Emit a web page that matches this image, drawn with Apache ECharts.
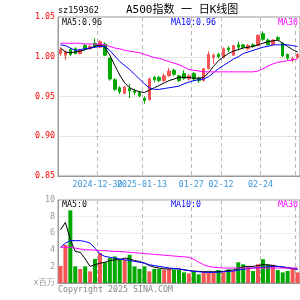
<!DOCTYPE html>
<html lang="zh">
<head>
    <meta charset="UTF-8">
    <title>A500指数 日K线图</title>
    <style>
        html, body { margin: 0; padding: 0; background: #fff; }
        #main { width: 300px; height: 300px; }
    </style>
</head>
<body>
<div id="main"></div>
<script src="https://cdn.jsdelivr.net/npm/echarts@6/dist/echarts.min.js"></script>
<script>
    // 交易日
    const dates = [
        '2024-12-18', '2024-12-19', '2024-12-20', '2024-12-23', '2024-12-24', '2024-12-25', '2024-12-26', '2024-12-27',
        '2024-12-30', '2024-12-31', '2025-01-02', '2025-01-03', '2025-01-06', '2025-01-07', '2025-01-08', '2025-01-09',
        '2025-01-10', '2025-01-13', '2025-01-14', '2025-01-15', '2025-01-16', '2025-01-17', '2025-01-20', '2025-01-21',
        '2025-01-22', '2025-01-23', '2025-01-24', '2025-01-27', '2025-02-05', '2025-02-06', '2025-02-07', '2025-02-10',
        '2025-02-11', '2025-02-12', '2025-02-13', '2025-02-14', '2025-02-17', '2025-02-18', '2025-02-19', '2025-02-20',
        '2025-02-21', '2025-02-24', '2025-02-25', '2025-02-26', '2025-02-27', '2025-02-28', '2025-03-03', '2025-03-04',
        '2025-03-05'
    ];
    // x轴刻度（第一个标签单独一条轴，避免被重叠隐藏）
    const tickIdx = [17, 27, 33, 41];
    const tickLabels = ['2025-01-13', '01-27', '02-12', '02-24'];
    const firstTickIdx = [8];
    const firstTickLabels = ['2024-12-30'];
    const gridIdx = [8, 17, 27, 33, 41, 48];

    // K线 开 收 低 高
    const opens = [1.004, 1.002, 1.009, 1.010, 1.004, 1.014, 1.010, 1.017, 1.012, 1.016,
        0.998, 0.971, 0.961, 0.954, 0.960, 0.957, 0.955, 0.948, 0.946, 0.974,
        0.974, 0.970, 0.976, 0.983, 0.976, 0.979, 0.972, 0.979, 0.973, 0.970,
        0.985, 0.999, 1.003, 0.999, 1.011, 1.002, 1.015, 1.015, 1.010, 1.015,
        1.014, 1.029, 1.021, 1.015, 1.024, 1.017, 1.003, 0.996, 0.999];
    const closes = [1.009, 1.006, 1.003, 1.004, 1.008, 1.010, 1.013, 1.013, 1.019, 1.002,
        0.972, 0.959, 0.956, 0.962, 0.957, 0.955, 0.951, 0.945, 0.972, 0.971,
        0.970, 0.976, 0.982, 0.978, 0.970, 0.973, 0.976, 0.972, 0.970, 0.985,
        1.003, 1.002, 1.000, 1.010, 1.009, 1.014, 1.012, 1.012, 1.014, 1.013,
        1.027, 1.022, 1.015, 1.021, 1.022, 1.001, 0.998, 0.998, 1.003];
    const lows = [1.001, 0.996, 1.001, 1.003, 1.003, 1.008, 1.009, 1.011, 1.011, 1.001,
        0.970, 0.957, 0.953, 0.953, 0.948, 0.952, 0.949, 0.941, 0.945, 0.968,
        0.968, 0.968, 0.975, 0.976, 0.968, 0.971, 0.970, 0.969, 0.967, 0.969,
        0.984, 0.991, 0.998, 0.998, 1.006, 1.001, 1.008, 1.010, 1.008, 1.011,
        1.013, 1.020, 1.014, 1.014, 1.020, 1.000, 0.996, 0.993, 0.997];
    const highs = [1.012, 1.008, 1.011, 1.012, 1.010, 1.016, 1.015, 1.023, 1.021, 1.018,
        0.999, 0.973, 0.963, 0.963, 0.966, 0.960, 0.957, 0.950, 0.974, 0.976,
        0.976, 0.979, 0.986, 0.985, 0.977, 0.983, 0.978, 0.981, 0.975, 0.986,
        1.007, 1.004, 1.005, 1.012, 1.013, 1.015, 1.019, 1.016, 1.016, 1.017,
        1.028, 1.032, 1.023, 1.022, 1.026, 1.018, 1.004, 1.000, 1.005];

    // 均线
    const ma5 = [1.011, 1.006, 1.005, 1.006, 1.007, 1.009, 1.011, 1.013, 1.015, 1.012,
        1.002, 0.989, 0.977, 0.967, 0.961, 0.958, 0.956, 0.955, 0.958, 0.961,
        0.964, 0.967, 0.970, 0.972, 0.974, 0.974, 0.974, 0.973, 0.973, 0.974,
        0.980, 0.988, 0.995, 1.000, 1.004, 1.007, 1.009, 1.011, 1.012, 1.013,
        1.015, 1.017, 1.019, 1.020, 1.021, 1.017, 1.013, 1.009, 1.006];
    const ma10 = [1.015, 1.014, 1.011, 1.008, 1.009, 1.010, 1.011, 1.012, 1.013, 1.013,
        1.008, 1.001, 0.994, 0.989, 0.984, 0.978, 0.972, 0.966, 0.961, 0.959,
        0.959, 0.960, 0.961, 0.962, 0.963, 0.966, 0.968, 0.970, 0.971, 0.972,
        0.975, 0.980, 0.985, 0.989, 0.993, 0.997, 1.000, 1.004, 1.006, 1.008,
        1.010, 1.012, 1.013, 1.015, 1.015, 1.015, 1.015, 1.014, 1.013];
    const ma30 = [1.017, 1.017, 1.017, 1.017, 1.017, 1.016, 1.016, 1.016, 1.016, 1.015,
        1.013, 1.011, 1.010, 1.008, 1.007, 1.006, 1.005, 1.003, 1.001, 0.999,
        0.998, 0.996, 0.994, 0.992, 0.990, 0.987, 0.984, 0.983, 0.982, 0.981,
        0.981, 0.981, 0.981, 0.981, 0.981, 0.981, 0.981, 0.981, 0.981, 0.981,
        0.982, 0.985, 0.988, 0.991, 0.993, 0.994, 0.995, 0.996, 0.997];

    // 成交量（百万）
    const volumes = [2.05, 4.6, 8.75, 2.0, 1.7, 2.0, 1.4, 2.9, 3.6, 2.5,
        3.0, 3.2, 2.8, 2.8, 3.4, 2.0, 1.7, 2.0, 1.4, 1.7,
        1.7, 1.6, 1.7, 1.6, 1.56, 1.28, 1.15, 1.4, 1.04, 1.28,
        1.28, 1.28, 1.56, 1.28, 1.65, 1.45, 2.5, 2.25, 1.97, 1.45,
        2.25, 2.87, 2.2, 2.2, 1.56, 1.28, 1.45, 1.77, 1.28];
    const volMa5 = [6.4, 7.3, 5.2, 3.8, 3.7, 2.9, 2.0, 2.2, 2.4, 2.5,
        2.7, 2.8, 2.8, 3.0, 2.9, 2.7, 2.6, 2.4, 2.1, 1.9,
        1.8, 1.7, 1.7, 1.7, 1.7, 1.57, 1.5, 1.44, 1.4, 1.36,
        1.36, 1.36, 1.36, 1.4, 1.5, 1.57, 1.75, 1.95, 2.0, 2.0,
        2.1, 2.2, 2.2, 2.1, 2.0, 1.9, 1.8, 1.75, 1.7];
    const volMa10 = [4.3, 4.8, 5.1, 5.1, 5.1, 5.0, 4.8, 4.2, 3.5, 3.2,
        3.1, 3.0, 2.9, 2.8, 2.7, 2.6, 2.5, 2.4, 2.2, 2.1,
        2.0, 1.9, 1.8, 1.75, 1.7, 1.6, 1.5, 1.4, 1.35, 1.3,
        1.28, 1.28, 1.3, 1.35, 1.4, 1.45, 1.55, 1.65, 1.75, 1.8,
        1.85, 1.9, 1.95, 2.0, 2.0, 1.95, 1.85, 1.75, 1.6];
    const volMa30 = [4.3, 4.3, 4.3, 4.2, 4.1, 4.0, 4.0, 3.95, 3.9, 3.9,
        3.85, 3.8, 3.8, 3.75, 3.7, 3.65, 3.6, 3.55, 3.5, 3.45,
        3.4, 3.35, 3.3, 3.25, 3.2, 3.15, 3.1, 2.85, 2.5, 2.2,
        2.0, 1.9, 1.85, 1.8, 1.8, 1.8, 1.8, 1.8, 1.8, 1.8,
        1.8, 1.8, 1.8, 1.8, 1.8, 1.8, 1.8, 1.8, 1.8];

    const UP = '#f55454';
    const DOWN = '#00a800';
    const MONO = '"DejaVu Sans Mono", "Noto Sans CJK SC", monospace';

    const kData = opens.map((o, i) => [o, closes[i], lows[i], highs[i]]);
    const volData = volumes.map((v, i) => ({
        value: v,
        itemStyle: {color: closes[i] >= opens[i] ? UP : DOWN}
    }));

    function maLine(name, data, color, xi, yi) {
        return {
            name: name,
            type: 'line',
            xAxisIndex: xi,
            yAxisIndex: yi,
            data: data,
            symbol: 'none',
            silent: true,
            lineStyle: {width: 1, color: color},
            z: 5
        };
    }

    function txt(text, x, y, color, size) {
        return {
            type: 'text',
            x: x,
            y: y,
            silent: true,
            style: {
                text: text,
                fill: color,
                font: size + 'px ' + MONO,
                verticalAlign: 'middle'
            }
        };
    }

    // 类目轴：idxs 为显示标签的下标，withGrid 为是否画轴线和竖线
    const catAxis = (gi, idxs, labels, withGrid) => ({
        type: 'category',
        gridIndex: gi,
        position: 'bottom',
        offset: 0,
        data: dates,
        boundaryGap: true,
        axisLine: {show: withGrid, lineStyle: {color: '#999'}},
        axisTick: {show: false},
        axisLabel: {
            show: idxs.length > 0,
            interval: (idx) => idxs.includes(idx),
            formatter: (val, idx) => labels[idxs.indexOf(idx)],
            color: '#3a94d6',
            fontSize: 8.3,
            fontFamily: MONO,
            margin: 5,
            padding: [0, 5, 0, 0],
            hideOverlap: false
        },
        splitLine: {
            show: withGrid,
            interval: (idx) => gridIdx.includes(idx),
            lineStyle: {color: '#bbb', type: [4, 3]}
        }
    });

    const chart = echarts.init(document.getElementById('main'));
    chart.setOption({
        animation: false,
        backgroundColor: '#fff',
        grid: [
            {left: 58, top: 17, width: 245, height: 159, show: true, borderColor: '#999', borderWidth: 1},
            {left: 58, top: 200, width: 245, height: 83, show: true, borderColor: '#999', borderWidth: 1}
        ],
        xAxis: [
            catAxis(0, tickIdx, tickLabels, true),
            catAxis(1, [], [], true),
            catAxis(0, firstTickIdx, firstTickLabels, false)
        ],
        yAxis: [
            {
                gridIndex: 0,
                min: 0.85,
                max: 1.05,
                interval: 0.05,
                axisLine: {show: true, lineStyle: {color: '#999'}},
                axisTick: {show: false},
                axisLabel: {color: '#ff0000', fontSize: 8.3, fontFamily: MONO, margin: 3, formatter: v => v.toFixed(2)},
                splitLine: {lineStyle: {color: '#ccc', type: 'dotted'}}
            },
            {
                gridIndex: 1,
                min: 0,
                max: 10,
                interval: 2,
                axisLine: {show: true, lineStyle: {color: '#999'}},
                axisTick: {show: false},
                axisLabel: {color: '#999', fontSize: 8.3, fontFamily: MONO, margin: 3, formatter: v => v === 0 ? 'x百万' : v},
                splitLine: {lineStyle: {color: '#ddd', type: 'dotted'}}
            }
        ],
        series: [
            {
                name: 'K',
                type: 'candlestick',
                xAxisIndex: 0,
                yAxisIndex: 0,
                data: kData,
                barWidth: 3,
                itemStyle: {color: UP, color0: DOWN, borderColor: UP, borderColor0: DOWN, borderWidth: 1}
            },
            maLine('MA5', ma5, '#000000', 0, 0),
            maLine('MA10', ma10, '#0000ff', 0, 0),
            maLine('MA30', ma30, '#ff00ff', 0, 0),
            {
                name: 'VOL',
                type: 'bar',
                xAxisIndex: 1,
                yAxisIndex: 1,
                data: volData,
                barWidth: 4
            },
            maLine('VMA5', volMa5, '#000000', 1, 1),
            maLine('VMA10', volMa10, '#0000ff', 1, 1),
            maLine('VMA30', volMa30, '#ff00ff', 1, 1)
        ],
        graphic: [
            txt('sz159362', 58, 10.5, '#000', 8.5),
            txt('A500指数 一 日K线图', 126, 10.5, '#000', 11),
            txt('MA5:0.96', 62, 23, '#000', 8.3),
            txt('MA10:0.96', 171, 23, '#0000ff', 8.3),
            txt('MA30:0.99', 278, 23, '#ff00ff', 8.3),
            txt('MA5:0', 62, 205, '#000', 8.3),
            txt('MA10:0', 171, 205, '#0000ff', 8.3),
            txt('MA30:0', 278, 205, '#ff00ff', 8.3),
            txt('Copyright 2025 SINA.COM', 58, 290, '#888', 8.3)
        ]
    });
</script>
</body>
</html>
